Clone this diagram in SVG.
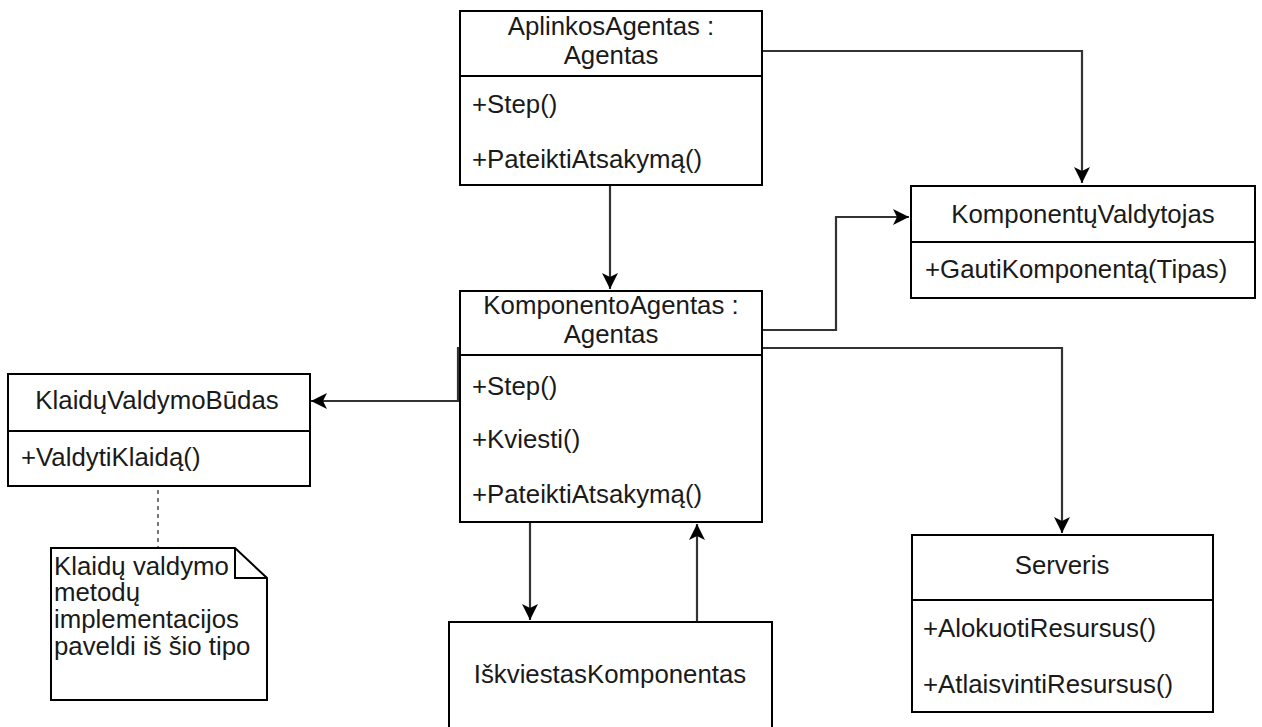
<svg xmlns="http://www.w3.org/2000/svg" width="1262" height="727" viewBox="0 0 1262 727">
<style>
.box{fill:#fff;stroke:#000;stroke-width:2}
.div{stroke:#000;stroke-width:2;fill:none}
.t{font-family:"Liberation Sans",Arial,sans-serif;font-size:25.8px;fill:#1a1a1a}
.c{text-anchor:middle}
.edge{fill:none;stroke:#333;stroke-width:2.2}
</style>
<defs>
<marker id="arr" markerUnits="userSpaceOnUse" markerWidth="18" markerHeight="18" refX="16" refY="8" orient="auto" viewBox="0 0 18 16">
<path d="M0,0 L16,8 L0,16 L4,8 z" fill="#000"/>
</marker>
</defs>
<rect width="1262" height="727" fill="#fff"/>
<g id="connectors">
<path class="edge" d="M762,51 L1082,51 L1082,183" marker-end="url(#arr)"/>
<path class="edge" d="M610,185 L610,289" marker-end="url(#arr)"/>
<path class="edge" d="M762,330 L836,330 L836,217 L909,217" marker-end="url(#arr)"/>
<path class="edge" d="M762,348 L1062,348 L1062,533" marker-end="url(#arr)"/>
<path class="edge" d="M460,348 L458,348 L458,401 L311,401" marker-end="url(#arr)"/>
<path class="edge" d="M530,522 L530,620" marker-end="url(#arr)"/>
<path class="edge" d="M697,622 L697,524" marker-end="url(#arr)"/>
<path d="M158,490 L158,547" fill="none" stroke="#777" stroke-width="2" stroke-dasharray="4 4"/>
</g>
<g id="aplinkos">
<rect class="box" x="460" y="11" width="302" height="174"/>
<line class="div" x1="460" y1="76" x2="762" y2="76"/>
<text class="t c" x="611" y="35">AplinkosAgentas :</text>
<text class="t c" x="611" y="64">Agentas</text>
<text class="t" x="472" y="113">+Step()</text>
<text class="t" x="472" y="168">+PateiktiAtsakymą()</text>
</g>
<g id="komponentoAgentas">
<rect class="box" x="460" y="291" width="302" height="231"/>
<line class="div" x1="460" y1="355" x2="762" y2="355"/>
<text class="t c" x="611" y="314">KomponentoAgentas :</text>
<text class="t c" x="611" y="343">Agentas</text>
<text class="t" x="472" y="395">+Step()</text>
<text class="t" x="472" y="448">+Kviesti()</text>
<text class="t" x="472" y="503">+PateiktiAtsakymą()</text>
</g>
<g id="komponentuValdytojas">
<rect class="box" x="911" y="186" width="344" height="112"/>
<line class="div" x1="911" y1="242" x2="1255" y2="242"/>
<text class="t c" x="1083" y="223">KomponentųValdytojas</text>
<text class="t" x="925" y="278">+GautiKomponentą(Tipas)</text>
</g>
<g id="klaidu">
<rect class="box" x="8" y="374" width="302" height="112"/>
<line class="div" x1="8" y1="431" x2="310" y2="431"/>
<text class="t c" x="157" y="409">KlaidųValdymoBūdas</text>
<text class="t" x="21" y="466">+ValdytiKlaidą()</text>
</g>
<g id="note">
<path class="box" d="M51,548 L235,548 L267,578 L267,700 L51,700 Z"/>
<path class="div" d="M235,548 L235,578 L267,578"/>
<text class="t" x="54" y="575">Klaidų valdymo</text>
<text class="t" x="54" y="601">metodų</text>
<text class="t" x="54" y="628">implementacijos</text>
<text class="t" x="54" y="655">paveldi iš šio tipo</text>
</g>
<g id="serveris">
<rect class="box" x="912" y="535" width="301" height="177"/>
<line class="div" x1="912" y1="600" x2="1213" y2="600"/>
<text class="t c" x="1062" y="574">Serveris</text>
<text class="t" x="923" y="637">+AlokuotiResursus()</text>
<text class="t" x="923" y="693">+AtlaisvintiResursus()</text>
</g>
<g id="iskviestas">
<rect class="box" x="449" y="622" width="323" height="120"/>
<text class="t c" x="610" y="683">IškviestasKomponentas</text>
</g>
</svg>
